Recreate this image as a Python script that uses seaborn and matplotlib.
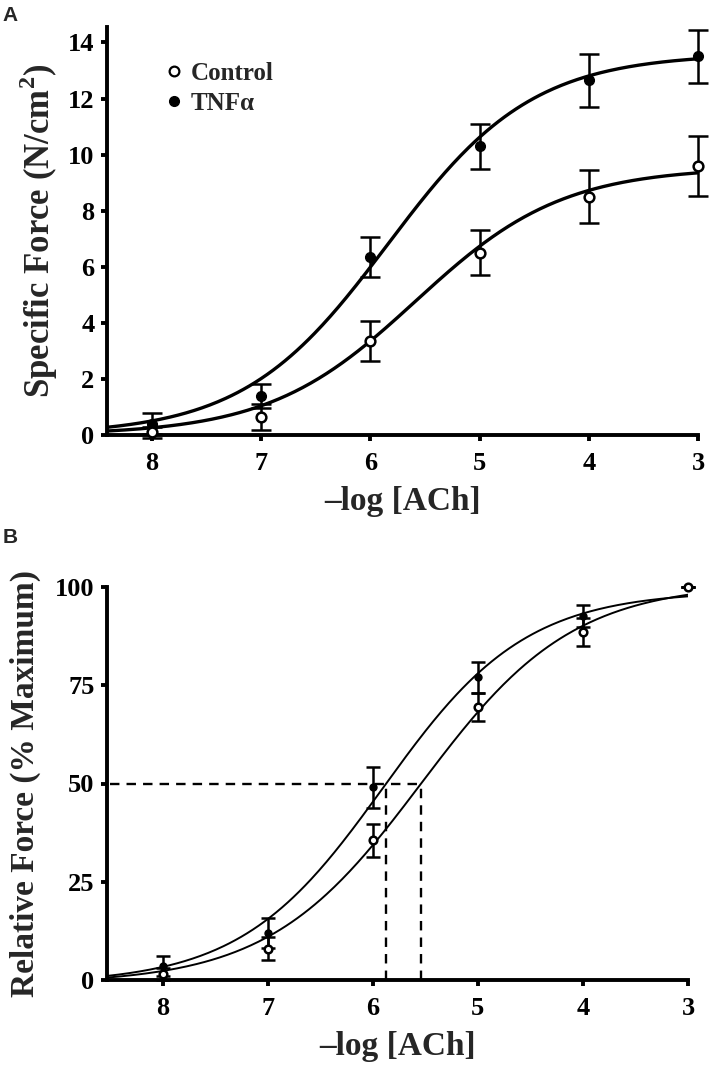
import numpy as np
import pandas as pd
import matplotlib
matplotlib.use('Agg')
import matplotlib.pyplot as plt
from matplotlib.lines import Line2D
import seaborn as sns

# -log [ACh] doses
log_ach = [8, 7, 6, 5, 4, 3]

# Panel A: specific force (N/cm2), mean and SEM
ctrl_force = [0.10, 0.64, 3.35, 6.50, 8.50, 9.60]
ctrl_force_err = [0.20, 0.45, 0.72, 0.80, 0.95, 1.07]
tnf_force = [0.40, 1.39, 6.35, 10.30, 12.65, 13.50]
tnf_force_err = [0.38, 0.43, 0.71, 0.80, 0.95, 0.96]

# Panel B: relative force (% maximum), mean and SEM
ctrl_rel = [1.5, 8.0, 35.5, 69.5, 88.5, 100.0]
ctrl_rel_err = [1.5, 3.0, 4.2, 3.6, 3.5, 0.0]
tnf_rel = [3.5, 12.0, 49.0, 77.0, 92.5, 100.0]
tnf_rel_err = [2.5, 3.8, 5.3, 4.0, 2.8, 0.0]

# sigmoid fits: (bottom, top, pEC50, hill slope)
ctrl_fit_a = (0.0, 9.55, 5.585, 0.645)
tnf_fit_a = (0.0, 13.6, 5.84, 0.656)
ctrl_fit_b = (-1.0, 101.0, 5.54, 0.60)
tnf_fit_b = (-1.0, 99.0, 5.90, 0.64)

# EC50 guide lines in panel B
ec50_b = [5.87, 5.54]

sns.set_style('ticks')
plt.rcParams['font.family'] = ['Liberation Serif', 'DejaVu Serif']
plt.rcParams['font.weight'] = 'bold'
plt.rcParams['axes.labelweight'] = 'bold'
plt.rcParams['mathtext.fontset'] = 'custom'
plt.rcParams['mathtext.bf'] = 'Liberation Serif:bold'
plt.rcParams['mathtext.rm'] = 'Liberation Serif:bold'


def logistic(p, bottom, top, pec, h):
    return bottom + (top - bottom) / (1 + 10 ** ((np.asarray(p) - pec) * h))


def style_axes(ax, xlim, ylim, yticks):
    ax.set_xlim(*xlim)
    ax.set_ylim(*ylim)
    ax.set_xticks(log_ach)
    ax.set_yticks(yticks)
    sns.despine(ax=ax)
    for s in ['left', 'bottom']:
        ax.spines[s].set_linewidth(2.8)
        ax.spines[s].set_color('black')
    ax.tick_params(axis='both', length=4, width=2.8, color='black',
                   labelsize=19, labelcolor='black')
    ax.tick_params(axis='x', pad=8)
    ax.tick_params(axis='y', pad=5)
    ax.set_xlabel('\u2013log [ACh]', fontsize=24, fontweight='bold', labelpad=8)


fig = plt.figure(figsize=(7.09, 10.76), dpi=100)

# ---- Panel A ----
ax = fig.add_axes([107 / 709, 1 - 435 / 1076, (698 - 107) / 709, (435 - 27) / 1076])
xa = np.linspace(8.41, 3, 300)
for fit in [ctrl_fit_a, tnf_fit_a]:
    df = pd.DataFrame({'x': xa, 'y': logistic(xa, *fit)})
    sns.lineplot(data=df, x='x', y='y', ax=ax, color='black', lw=2.4, sort=False)

ax.errorbar(log_ach, tnf_force, yerr=tnf_force_err, fmt='o', color='black',
            mfc='black', mec='black', ms=7, elinewidth=1.8, capsize=7,
            capthick=1.8, clip_on=False, zorder=4)
ax.errorbar(log_ach, ctrl_force, yerr=ctrl_force_err, fmt='o', color='black',
            mfc='white', mec='black', mew=1.8, ms=7, elinewidth=1.8, capsize=7,
            capthick=1.8, clip_on=False, zorder=5)
style_axes(ax, (8.41, 3), (0, 14.55), [0, 2, 4, 6, 8, 10, 12, 14])
ax.set_ylabel('Specific Force (N/cm$^{\\mathbf{2}}$)', fontsize=25,
              fontweight='bold', labelpad=6)

handles = [Line2D([], [], ls='none', marker='o', ms=7, mfc='white', mec='black', mew=1.6),
           Line2D([], [], ls='none', marker='o', ms=7, mfc='black', mec='black')]
ax.legend(handles, ['Control', 'TNF\u03b1'], loc='upper left',
          bbox_to_anchor=(0.10, 0.915), frameon=False, handlelength=0.6,
          handletextpad=0.4, borderaxespad=0, borderpad=0, labelspacing=0.3,
          prop={'size': 18, 'weight': 'bold'})

# ---- Panel B ----
ax = fig.add_axes([107 / 709, 1 - 980 / 1076, (688 - 107) / 709, (980 - 587) / 1076])
xb = np.linspace(8.53, 3, 300)
for fit in [ctrl_fit_b, tnf_fit_b]:
    df = pd.DataFrame({'x': xb, 'y': logistic(xb, *fit)})
    sns.lineplot(data=df, x='x', y='y', ax=ax, color='black', lw=1.4, sort=False)

ax.plot([8.50, min(ec50_b)], [50, 50], color='black', lw=1.7, ls=(0, (4, 3)))
for e in ec50_b:
    ax.plot([e, e], [0, 50], color='black', lw=1.7, ls=(0, (4, 3)))

ax.errorbar(log_ach, tnf_rel, yerr=tnf_rel_err, fmt='o', color='black',
            mfc='black', mec='black', ms=5, elinewidth=1.8, capsize=5,
            capthick=1.8, clip_on=False, zorder=4)
ax.errorbar(log_ach, ctrl_rel, yerr=ctrl_rel_err, fmt='o', color='black',
            mfc='white', mec='black', mew=1.8, ms=5.5, elinewidth=1.8, capsize=5,
            capthick=1.8, clip_on=False, zorder=5)
style_axes(ax, (8.53, 3), (0, 100), [0, 25, 50, 75, 100])
ax.set_ylabel('Relative Force (% Maximum)', fontsize=24, fontweight='bold', labelpad=10)

fig.text(0.003, 1 - 6 / 1076, 'A', family='Liberation Sans', weight='bold',
         size=15, va='top', ha='left')
fig.text(0.003, 1 - 528 / 1076, 'B', family='Liberation Sans', weight='bold',
         size=15, va='top', ha='left')

fig.savefig('out.png', dpi=100)
